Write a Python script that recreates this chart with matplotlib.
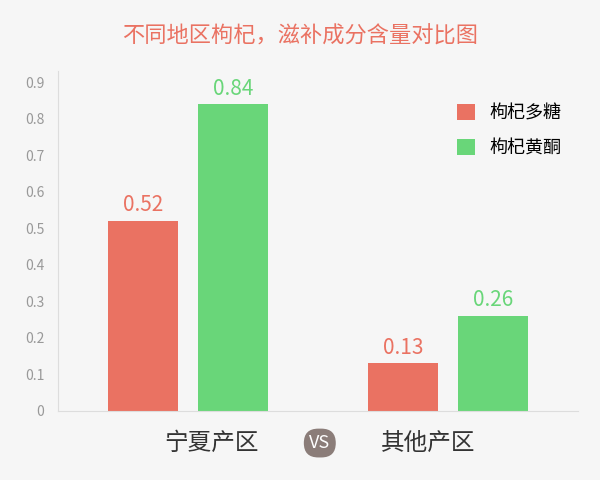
import matplotlib
matplotlib.use('Agg')
import matplotlib.pyplot as plt
import numpy as np

plt.rcParams['font.family'] = ['Noto Sans CJK SC', 'DejaVu Sans']

regions = ['宁夏产区', '其他产区']
series_names = ['枸杞多糖', '枸杞黄酮']
polysaccharide = [0.52, 0.13]
flavonoid = [0.84, 0.26]
colors = ['#ea7262', '#69d679']

fig = plt.figure(figsize=(6, 4.8), dpi=100)
fig.patch.set_facecolor('#f6f6f6')
ax = fig.add_axes([0.097, 0.144, 0.866, 0.708])
ax.set_facecolor('#f6f6f6')

x = np.arange(len(regions))
w = 0.269
off = 0.173
for vals, dx, c, name in [(polysaccharide, -off, colors[0], series_names[0]),
                          (flavonoid, off, colors[1], series_names[1])]:
	bars = ax.bar(x + dx, vals, w, color=c, label=name)
	for b, v in zip(bars, vals):
		ax.text(b.get_x() + b.get_width() / 2, v + 0.012, f'{v:g}', ha='center', va='bottom',
				color=c, fontsize=15)

ax.set_xlim(-0.5, 1.5)
ax.set_ylim(0, 0.93)
ax.set_yticks(np.arange(0, 0.91, 0.1))
ax.set_yticklabels(['0'] + [f'{t:.1f}' for t in np.arange(0.1, 0.91, 0.1)])
ax.set_xticks([])
ax.tick_params(axis='y', length=0, labelsize=10, labelcolor='#999999', pad=10)
for s in ['top', 'right']:
	ax.spines[s].set_visible(False)
ax.spines['left'].set_color('#dddddd')
ax.spines['bottom'].set_color('#dddddd')

ax.legend(loc='upper right', frameon=False, fontsize=13, handlelength=1.0, handleheight=1.0,
		  labelspacing=0.9, bbox_to_anchor=(1.0, 0.95))

fig.text(0.5, 0.925, '不同地区枸杞，滋补成分含量对比图', ha='center', va='center',
		 fontsize=16, color='#ea7262')
fig.text(0.353, 0.077, regions[0], ha='center', va='center', fontsize=17, color='#333333')
fig.text(0.713, 0.077, regions[1], ha='center', va='center', fontsize=17, color='#333333')
fig.text(0.533, 0.077, 'VS', ha='center', va='center', fontsize=13, color='white',
		 bbox=dict(boxstyle='round,pad=0.3,rounding_size=0.8', fc='#8b7d79', ec='none'))

fig.savefig('out.png', dpi=100, facecolor=fig.get_facecolor())
